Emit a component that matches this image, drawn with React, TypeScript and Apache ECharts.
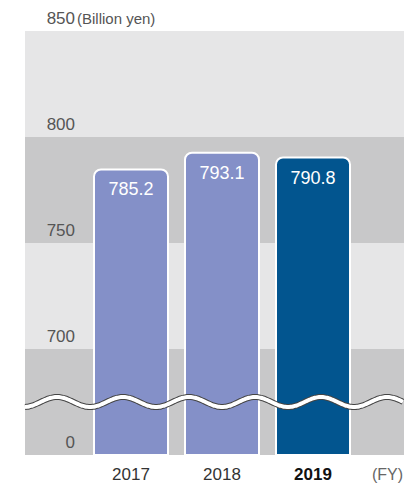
import React, { useEffect, useRef } from 'react';
import * as echarts from 'echarts';

const categories = ['2017', '2018', '2019'];
const values = [785.2, 793.1, 790.8];
const barColors = ['#8490c8', '#8490c8', '#02558f'];
const highlightCategory = '2019';
const axisMin = 650; // shown as "0" below the axis break
const axisMax = 850;
const axisStep = 50;
const unitLabel = '(Billion yen)';
const xUnitLabel = '(FY)';

const FONT = '"Liberation Sans", Arial, Helvetica, sans-serif';

export default function App() {
  const ref = useRef<HTMLDivElement>(null);
  useEffect(() => {
    document.body.style.margin = '0';
    if (!ref.current) return;
    const chart = echarts.init(ref.current, undefined, { renderer: 'svg' });

    // decorative wave (axis break)
    const wavePts: number[][] = [];
    for (let x = 25; x <= 404; x += 2) {
      wavePts.push([x, 402 - 5 * Math.cos((2 * Math.PI * (x - 57)) / 66)]);
    }

    chart.setOption({
      animation: false,
      grid: [
        { left: 25, right: 0, top: 31, bottom: 31 },
        { left: 85.5, right: 45.5, top: 31, bottom: 31 },
      ],
      xAxis: [
        { type: 'category', gridIndex: 0, data: [''], show: false },
        {
          type: 'category',
          gridIndex: 1,
          data: categories.map((c) =>
            c === highlightCategory ? { value: c, textStyle: { fontWeight: 'bold', color: '#111' } } : c
          ),
          axisLine: { show: false },
          axisTick: { show: false },
          axisLabel: { color: '#333', fontSize: 17, fontFamily: FONT, margin: 11 },
        },
      ],
      yAxis: [
        {
          type: 'value',
          gridIndex: 0,
          min: axisMin,
          max: axisMax,
          interval: axisStep,
          axisLine: { show: false },
          axisTick: { show: false },
          splitLine: { show: false },
          splitArea: { show: true, areaStyle: { color: ['#c8c8c9', '#e6e6e7'] } },
          axisLabel: {
            inside: true,
            align: 'right',
            verticalAlign: 'bottom',
            margin: 50,
            padding: [0, 0, 4, 0],
            color: '#555',
            fontSize: 17,
            fontFamily: FONT,
            formatter: (v: number) => (v === axisMin ? '0' : String(v)),
          },
        },
        { type: 'value', gridIndex: 1, min: axisMin, max: axisMax, interval: axisStep, show: false },
      ],
      series: [
        {
          type: 'bar',
          xAxisIndex: 1,
          yAxisIndex: 1,
          barWidth: 76,
          data: values.map((v, i) => ({ value: v, itemStyle: { color: barColors[i] } })),
          itemStyle: { borderColor: '#fff', borderWidth: 2, borderRadius: [7, 7, 0, 0] },
          label: {
            show: true,
            position: 'insideTop',
            distance: 12,
            color: '#fff',
            fontSize: 18,
            fontFamily: FONT,
            formatter: (p: any) => p.value.toFixed(1),
          },
        },
      ],
      graphic: [
        {
          type: 'polyline',
          z: 100,
          shape: { points: wavePts, smooth: 0.3 },
          style: { stroke: '#444', lineWidth: 6, fill: null },
        },
        {
          type: 'polyline',
          z: 101,
          shape: { points: wavePts, smooth: 0.3 },
          style: { stroke: '#fff', lineWidth: 4, fill: null },
        },
        {
          type: 'text',
          z: 100,
          x: 77,
          y: 18,
          style: { text: unitLabel, fill: '#555', fontSize: 15, fontFamily: FONT, verticalAlign: 'middle', align: 'left' },
        },
        {
          type: 'text',
          z: 100,
          x: 403,
          y: 474,
          style: { text: xUnitLabel, fill: '#666', fontSize: 16, fontFamily: FONT, verticalAlign: 'middle', align: 'right' },
        },
      ],
    });
    return () => chart.dispose();
  }, []);
  return <div ref={ref} style={{ width: 404, height: 486 }} />;
}
